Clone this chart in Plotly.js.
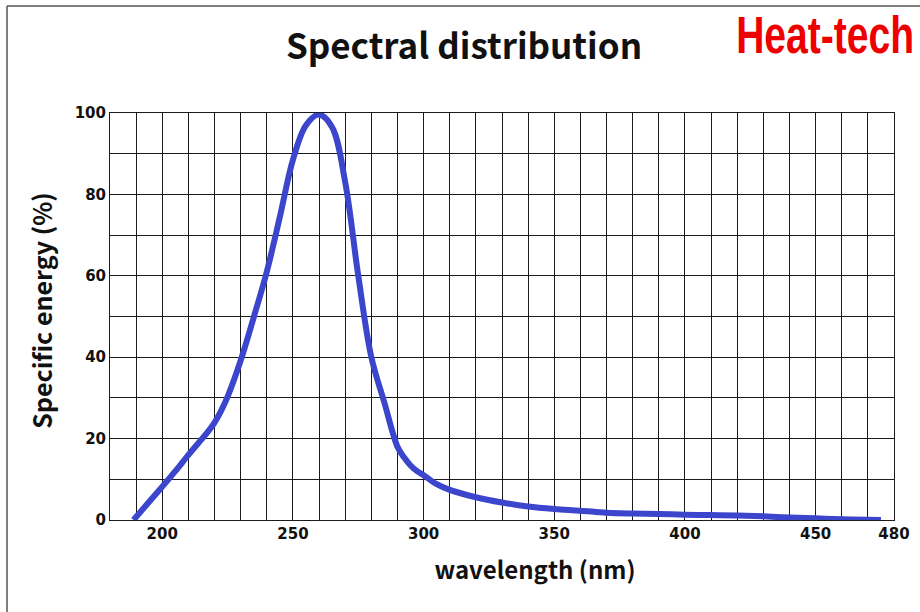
<!DOCTYPE html>
<html>
<head>
<meta charset="utf-8">
<script src="https://cdn.plot.ly/plotly-3.0.1.min.js"></script>
<style>
html,body{margin:0;padding:0;background:#fff;}
#chart{width:920px;height:612px;}
</style>
</head>
<body>
<div id="chart"></div>
<script>
const wavelength = [189, 195, 200, 205, 210, 215, 217.5, 220, 222.5, 225, 230, 235, 240, 245, 250, 255, 260, 265, 270, 275, 280, 285, 290, 292.5, 295, 297.5, 300, 305, 310, 320, 330, 340, 350, 360, 370, 380, 390, 400, 410, 420, 430, 440, 450, 460, 470, 475];
const energy = [0, 4.5, 8.2, 12, 16, 19.8, 21.7, 23.9, 26.8, 30.3, 39.2, 49.8, 61, 74.5, 88.5, 97, 99.6, 96.5, 83, 60, 40, 28.8, 18, 15.4, 13.4, 12, 11, 8.8, 7.4, 5.6, 4.3, 3.3, 2.7, 2.3, 1.8, 1.6, 1.5, 1.3, 1.2, 1.1, 0.9, 0.6, 0.4, 0.2, 0.05, 0];
const xTicks = [200, 250, 300, 350, 400, 450, 480];
const yTicks = [0, 20, 40, 60, 80, 100];

const W = 920, H = 612;
const M = {l: 110, r: 26, t: 113, b: 92};
const pw = W - M.l - M.r, ph = H - M.t - M.b;
const px = v => (v - M.l) / pw;
const py = v => (H - M.b - v) / ph;

const trace = {
  x: wavelength, y: energy, type: 'scatter', mode: 'lines',
  line: {color: '#3c46cc', width: 6, shape: 'spline', smoothing: 1},
  hoverinfo: 'skip'
};

const tickFont = {family: 'DejaVu Sans', size: 15, color: '#111', weight: 'bold'};
const titleFontFamily = '"Noto Sans CJK JP", "Noto Sans", sans-serif';

const layout = {
  width: W, height: H,
  margin: M,
  paper_bgcolor: '#fff', plot_bgcolor: '#fff',
  showlegend: false,
  title: {
    text: 'Spectral distribution',
    font: {family: titleFontFamily, size: 35, color: '#111', weight: 'bold'},
    x: 464 / W, xanchor: 'center', xref: 'container',
    y: 1 - 47 / H, yanchor: 'middle', yref: 'container'
  },
  xaxis: {
    range: [180, 480], tickvals: xTicks, ticktext: xTicks.map(String),
    showgrid: true, gridcolor: '#1a1a1a', gridwidth: 1,
    minor: {tick0: 180, dtick: 10, showgrid: true, gridcolor: '#1a1a1a', gridwidth: 1},
    showline: true, linecolor: '#1a1a1a', linewidth: 1, mirror: true,
    ticks: '', tickfont: tickFont, zeroline: false, fixedrange: true,
    automargin: false,
    title: {text: 'wavelength (nm)', font: {family: titleFontFamily, size: 24, color: '#111', weight: 'bold'}, standoff: 16}
  },
  yaxis: {
    range: [0, 100], tickvals: yTicks, ticktext: yTicks.map(String),
    showgrid: true, gridcolor: '#1a1a1a', gridwidth: 1,
    minor: {tick0: 0, dtick: 10, showgrid: true, gridcolor: '#1a1a1a', gridwidth: 1},
    showline: true, linecolor: '#1a1a1a', linewidth: 1, mirror: true,
    ticks: '', tickfont: tickFont, zeroline: false, fixedrange: true,
    automargin: false,
    title: {text: 'Specific energy (%)', font: {family: titleFontFamily, size: 25, color: '#111', weight: 'bold'}, standoff: 16}
  },
  annotations: [{
    text: 'Heat-tech', xref: 'paper', yref: 'paper',
    x: px(915), y: py(35), xanchor: 'right', yanchor: 'middle',
    showarrow: false,
    font: {family: '"Liberation Sans", Arial, sans-serif', size: 51, color: '#ee0000', weight: 'bold'}
  }],
  shapes: [
    {type: 'line', xref: 'paper', yref: 'paper', x0: px(7), x1: px(925), y0: py(6), y1: py(6), line: {color: '#555', width: 1.5}},
    {type: 'line', xref: 'paper', yref: 'paper', x0: px(7), x1: px(7), y0: py(6), y1: py(620), line: {color: '#555', width: 1.5}}
  ]
};

Plotly.newPlot('chart', [trace], layout, {displayModeBar: false, staticPlot: true}).then(gd => {
  const svgRect = gd.querySelector('svg.main-svg').getBoundingClientRect();
  // condense the logo text horizontally, keeping its right edge in place
  const ann = gd.querySelector('g.annotation');
  if (ann) {
    const r = ann.getBoundingClientRect();
    const right = r.right - svgRect.left;
    const s = 180 / r.width;
    ann.setAttribute('transform', `matrix(${s},0,0,1,${915 - s * right},0)`);
  }
  // nudge axis titles to match the reference placement
  const xt = gd.querySelector('g.g-xtitle');
  if (xt) xt.setAttribute('transform', 'translate(33,4)');
  const yt = gd.querySelector('g.g-ytitle');
  if (yt) yt.setAttribute('transform', 'translate(2,-6)');
});
</script>
</body>
</html>
